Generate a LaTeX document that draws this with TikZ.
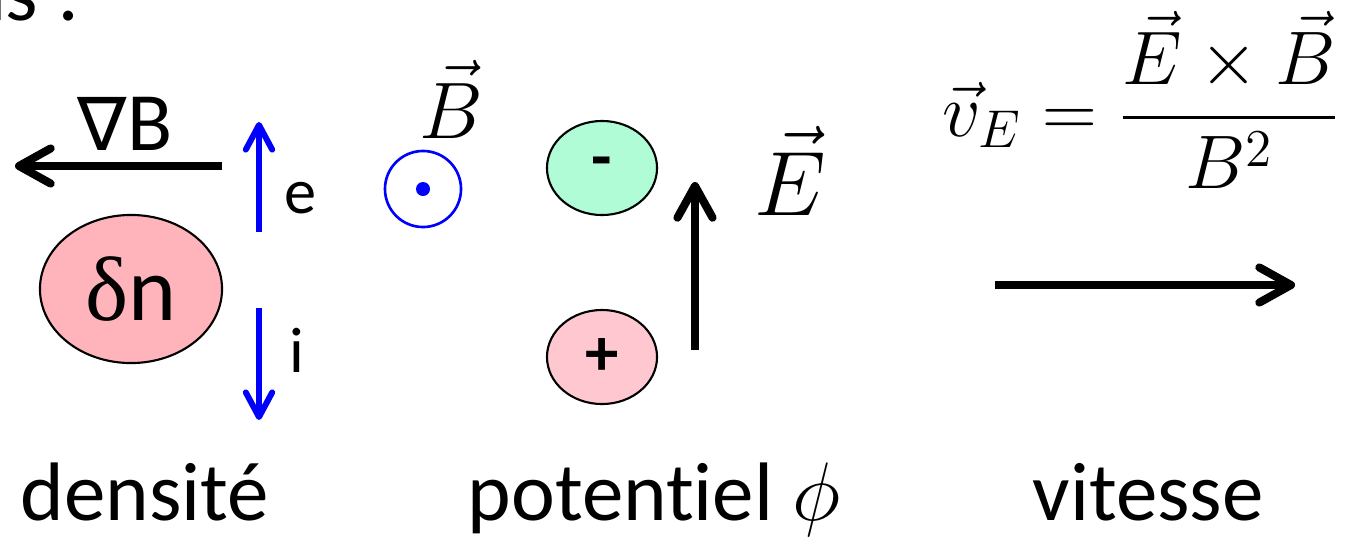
\RequirePackage{fix-cm}
\documentclass[tikz,border=0pt]{standalone}
\usepackage{amsmath}
\usepackage[no-math]{fontspec}
\setmainfont{Carlito}[Ligatures=NoCommon]
\newfontfamily\symbfont{DejaVu Sans}
\newfontfamily\grecfont{Liberation Serif}
\usetikzlibrary{arrows.meta,shapes.geometric}

\definecolor{rosedn}{RGB}{255,179,186}
\definecolor{vertmoins}{RGB}{175,252,214}
\definecolor{roseplus}{RGB}{255,200,208}

\begin{document}
\begin{tikzpicture}[x=0.01cm, y=-0.01cm,
  fleche/.style={line width=2.3pt, -{Straight Barb[length=9pt,width=10pt,round]}},
  flechebleue/.style={blue, line width=1.7pt, -{Straight Barb[length=7pt,width=7.5pt,round]}},
  tache/.style={ellipse, draw, line width=0.6pt, inner sep=0pt},
  texte/.style={inner sep=0pt, font=\fontsize{23.6}{28}\selectfont},
  petit/.style={inner sep=0pt, font=\fontsize{18.3}{22}\selectfont}]
  \useasboundingbox (0,0) rectangle (1346,536);

  % fin de la ligne du dessus, coupee par le cadre
  \begin{scope}
    \clip (0,0) rectangle (1346,536);
    \node[texte, anchor=base east] (haut) at (80,20) {ns :};
  \end{scope}

  % densite
  \node[tache, fill=rosedn, minimum width=1.82cm, minimum height=1.48cm,
        font=\fontsize{26}{30}\selectfont] (dn) at (131,289) {{\grecfont δ}n};
  \coordinate (gradB-debut) at (222,166);
  \coordinate (gradB-fin) at (15,166);
  \draw[fleche] (gradB-debut) -- (gradB-fin);
  \node[texte, anchor=base] (gradB) at (125,150) {{\symbfont\fontsize{21}{25}\selectfont ∇}B};

  % derives electrons / ions
  \coordinate (e-bas) at (259,232);
  \coordinate (e-haut) at (259,122);
  \draw[flechebleue] (e-bas) -- (e-haut);
  \node[petit, anchor=base west] (e) at (284,213) {e};
  \coordinate (i-haut) at (259,308);
  \coordinate (i-bas) at (259,420);
  \draw[flechebleue] (i-haut) -- (i-bas);
  \node[petit, anchor=base west] (i) at (289,372) {i};

  % champ B sortant
  \node[circle, draw=blue, line width=0.75pt, minimum size=0.76cm, inner sep=0pt] (Bcercle) at (423,189) {};
  \node[circle, fill=blue, minimum size=0.14cm, inner sep=0pt] (Bpoint) at (Bcercle.center) {};
  \node[anchor=base, inner sep=0pt, font=\fontsize{22.8}{27}\selectfont] (Blabel) at (451,138) {$\vec{B}$};

  % potentiel
  \node[tache, fill=vertmoins, minimum width=1.1cm, minimum height=0.94cm,
        font=\bfseries\fontsize{19}{22}\selectfont] (moins) at (602,168) {-};
  \node[tache, fill=roseplus, minimum width=1.1cm, minimum height=0.94cm,
        font=\bfseries\fontsize{19}{22}\selectfont] (plus) at (602,357) {+};
  \coordinate (E-bas) at (695,350);
  \coordinate (E-haut) at (695,182);
  \draw[fleche] (E-bas) -- (E-haut);
  \node[anchor=base, inner sep=0pt, font=\fontsize{26}{30}\selectfont] (Elabel) at (790,215) {$\vec{E}$};

  % vitesse de derive
  \node[inner sep=0pt, font=\fontsize{21.6}{26}\selectfont] (vE) at (1141,100)
    {$\vec{v}_E = \dfrac{\vec{E}\times\vec{B}}{B^2}$};
  \coordinate (v-debut) at (995,285);
  \coordinate (v-fin) at (1295,285);
  \draw[fleche] (v-debut) -- (v-fin);

  % titres
  \node[texte, anchor=base] (densite) at (145,520) {densité};
  \node[texte, anchor=base] (potentiel) at (654,520) {potentiel $\phi$};
  \node[texte, anchor=base] (vitesse) at (1148,520) {vitesse};
\end{tikzpicture}
\end{document}
